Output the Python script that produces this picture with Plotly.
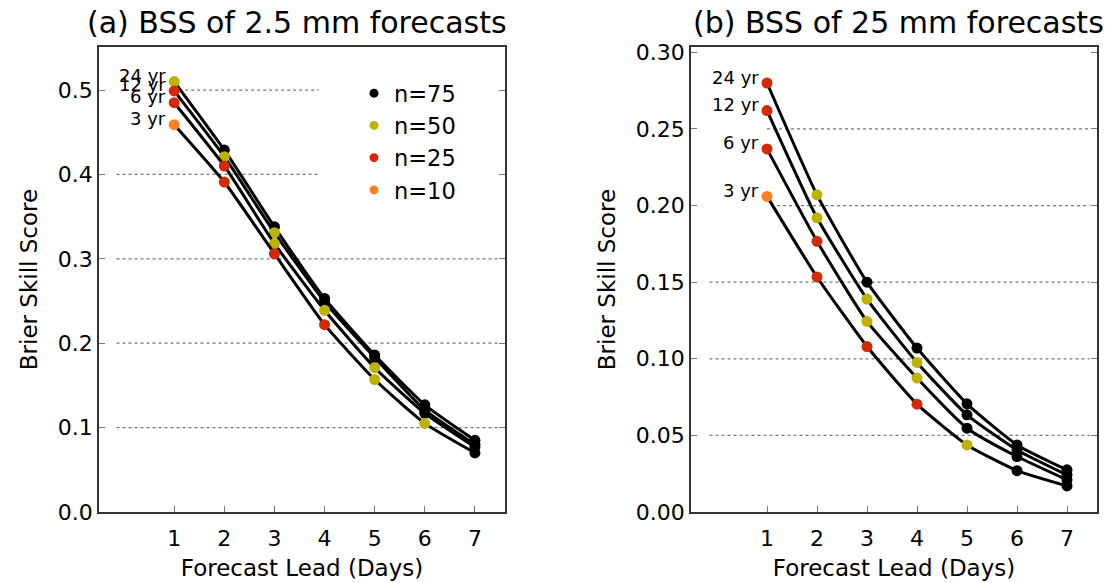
import plotly.graph_objects as go

# ---------------- data ----------------
lead_days = [1, 2, 3, 4, 5, 6, 7]
train_labels = ["24 yr", "12 yr", "6 yr", "3 yr"]

# panel (a) BSS of 2.5 mm forecasts
bss_a_24yr = [0.510, 0.429, 0.338, 0.253, 0.186, 0.127, 0.085]
bss_a_12yr = [0.499, 0.421, 0.331, 0.249, 0.183, 0.121, 0.080]
bss_a_6yr = [0.485, 0.410, 0.318, 0.239, 0.171, 0.117, 0.077]
bss_a_3yr = [0.459, 0.391, 0.306, 0.222, 0.157, 0.105, 0.070]
n_a_24yr = [50, 75, 75, 75, 75, 75, 75]
n_a_12yr = [25, 50, 50, 75, 75, 75, 75]
n_a_6yr = [25, 25, 50, 50, 50, 75, 75]
n_a_3yr = [10, 25, 25, 25, 50, 50, 75]

# panel (b) BSS of 25 mm forecasts
bss_b_24yr = [0.280, 0.207, 0.150, 0.107, 0.0706, 0.0438, 0.0275]
bss_b_12yr = [0.262, 0.192, 0.139, 0.0976, 0.0634, 0.0405, 0.0242]
bss_b_6yr = [0.237, 0.1767, 0.1244, 0.0874, 0.0547, 0.0362, 0.0210]
bss_b_3yr = [0.206, 0.1534, 0.108, 0.0704, 0.0438, 0.0270, 0.0170]
n_b_24yr = [25, 50, 75, 75, 75, 75, 75]
n_b_12yr = [25, 50, 50, 50, 75, 75, 75]
n_b_6yr = [25, 25, 50, 50, 75, 75, 75]
n_b_3yr = [10, 25, 25, 25, 50, 75, 75]

legend_n = [75, 50, 25, 10]
n_colors = {75: "#000000", 50: "#BDB200", 25: "#D22A08", 10: "#FF8020"}

ticks_a = [0.0, 0.1, 0.2, 0.3, 0.4, 0.5]
ticks_b = [0.00, 0.05, 0.10, 0.15, 0.20, 0.25, 0.30]

FONT = "DejaVu Sans"

fig = go.Figure()

panels = [
    ("x", "y", [bss_a_24yr, bss_a_12yr, bss_a_6yr, bss_a_3yr],
     [n_a_24yr, n_a_12yr, n_a_6yr, n_a_3yr]),
    ("x2", "y2", [bss_b_24yr, bss_b_12yr, bss_b_6yr, bss_b_3yr],
     [n_b_24yr, n_b_12yr, n_b_6yr, n_b_3yr]),
]

for xa, ya, series, ns in panels:
    for lab, vals, nn in zip(train_labels, series, ns):
        fig.add_trace(go.Scatter(
            x=lead_days, y=vals, xaxis=xa, yaxis=ya,
            mode="lines+markers",
            line=dict(color="black", width=3, shape="spline", smoothing=0.5),
            marker=dict(size=11, color=[n_colors[v] for v in nn],
                        line=dict(width=0)),
            showlegend=False, hoverinfo="skip", name=lab,
        ))
        fig.add_annotation(
            x=lead_days[0], y=vals[0], xref=xa, yref=ya,
            text=lab, showarrow=False, xanchor="right", yanchor="middle",
            xshift=-6, yshift=6,
            font=dict(family=FONT, size=18, color="black"),
        )

for n in legend_n:
    fig.add_trace(go.Scatter(
        x=[None], y=[None], mode="markers",
        marker=dict(size=9, color=n_colors[n]),
        name=f"n={n}", showlegend=True,
    ))

# dashed reference lines
grid_a = [(0.5, 1.1, 3.88), (0.4, -0.15, 3.88), (0.3, -0.15, 7.45),
          (0.2, -0.15, 7.45), (0.1, -0.15, 7.45)]
grid_b = [(0.25, 1.0, 7.45), (0.20, 1.2, 7.45), (0.15, -0.15, 7.45),
          (0.10, -0.15, 7.45), (0.05, -0.15, 7.45)]
for xa, ya, grid in (("x", "y", grid_a), ("x2", "y2", grid_b)):
    for yv, x0, x1 in grid:
        fig.add_shape(type="line", xref=xa, yref=ya, x0=x0, x1=x1, y0=yv, y1=yv,
                      line=dict(color="#777777", width=1.3, dash="dot"),
                      layer="below")

axis_common = dict(showline=True, linecolor="#333333", linewidth=1.6,
                   ticks="inside", ticklen=6, tickcolor="#777777", tickwidth=1.3,
                   showgrid=False, zeroline=False, automargin=False,
                   tickfont=dict(family=FONT, size=22, color="black"))

# page body has an 8px default offset; compensate
OFF = 8
W, H = 1117 - OFF, 583 - OFF
ml, mr, mt, mb = 99 - OFF, 20, 47 - OFF, 71
pw = W - ml - mr
ph = H - mt - mb
d1 = (505 - 99) / pw
d2 = (691 - 99) / pw

title_font = dict(family=FONT, size=23)

fig.update_layout(
    width=W, height=H, plot_bgcolor="white", paper_bgcolor="white",
    margin=dict(l=ml, r=mr, t=mt, b=mb),
    font=dict(family=FONT, color="black"),
    xaxis=dict(domain=[0, d1], range=[-0.5, 7.6], tickvals=lead_days,
               mirror=True, anchor="y", ticklabelstandoff=6,
               title=dict(text="Forecast Lead (Days)", standoff=10,
                          font=title_font), **axis_common),
    yaxis=dict(domain=[0, 1], range=[0, 0.551], tickvals=ticks_a,
               tickformat=".1f", mirror="ticks", anchor="x",
               title=dict(text="Brier Skill Score", standoff=14,
                          font=title_font), **axis_common),
    xaxis2=dict(domain=[d2, 1], range=[-0.52, 7.6], tickvals=lead_days,
                mirror=True, anchor="y2", ticklabelstandoff=6,
                title=dict(text="Forecast Lead (Days)", standoff=10,
                           font=title_font), **axis_common),
    yaxis2=dict(domain=[0, 1], range=[0, 0.3035], tickvals=ticks_b,
                tickformat=".2f", mirror="ticks", anchor="x2",
                title=dict(text="Brier Skill Score", standoff=14,
                           font=title_font), **axis_common),
    legend=dict(x=(354 - 99) / pw, y=1 - (72 - 47) / ph,
                xanchor="left", yanchor="top", bgcolor="rgba(0,0,0,0)",
                font=dict(family=FONT, size=22.5, color="black"),
                itemwidth=30, tracegroupgap=0),
)

fig.add_annotation(text="(a) BSS of 2.5 mm forecasts", xref="paper", yref="paper",
                   x=d1 / 2 - 0.005, y=1.0, yshift=5, xanchor="center",
                   yanchor="bottom", showarrow=False,
                   font=dict(family=FONT, size=30))
fig.add_annotation(text="(b) BSS of 25 mm forecasts", xref="paper", yref="paper",
                   x=(d2 + 1) / 2 + 0.005, y=1.0, yshift=5, xanchor="center",
                   yanchor="bottom", showarrow=False,
                   font=dict(family=FONT, size=30))

fig.write_html("out.html")
